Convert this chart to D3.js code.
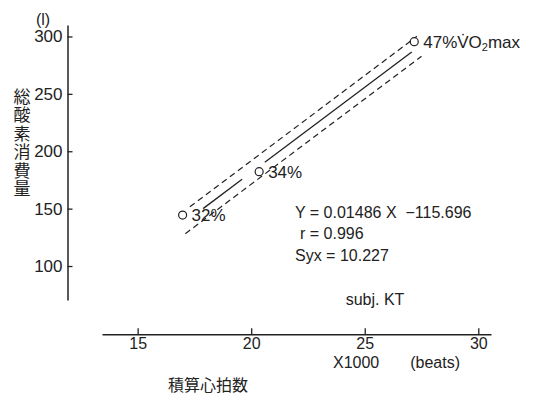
<!DOCTYPE html>
<html>
<head>
<meta charset="utf-8">
<script src="https://cdn.jsdelivr.net/npm/d3@7"></script>
<style>
  html, body { margin: 0; padding: 0; background: #fff; }
  svg { display: block; }
  text { font-family: "Liberation Sans", Arial, sans-serif; fill: #222; }
</style>
</head>
<body>
<svg id="chart" width="537" height="396"></svg>
<script>
// Cumulative heart beats (x1000) vs. total oxygen consumption (l), subject KT
const pointLabels = ["32%", "34%", "47%"];
const beatsK = [16.98, 20.35, 27.18];          // x 1000 beats
const oxygenL = [144.4, 182.2, 295.5];         // litres
const xTicks = [15, 20, 25, 30];
const yTicks = [100, 150, 200, 250, 300];
const slope = 0.01486;        // per beat
const intercept = -115.696;
const rValue = 0.996;
const syx = 10.227;
const yTitle = "総酸素消費量";

const svg = d3.select("#chart");

const x = d3.scaleLinear().domain([13.43, 30.56]).range([102, 491]);
const y = d3.scaleLinear().domain([70.4, 310]).range([300, 25]);

const fit = k => slope * k * 1000 + intercept;

// axes
const yAxis = d3.axisLeft(y).tickValues(yTicks).tickSizeInner(-5).tickSizeOuter(0).tickPadding(5);
const gy = svg.append("g").attr("transform", "translate(67.5,0)").call(yAxis);
gy.selectAll("text").attr("font-size", 17).attr("fill", "#222").style("font-family", "Liberation Sans, Arial, sans-serif");

const xAxis = d3.axisBottom(x).tickValues(xTicks).tickSizeInner(-6).tickSizeOuter(0).tickPadding(3);
const gx = svg.append("g").attr("transform", "translate(0,334.3)").call(xAxis);
gx.selectAll("text").attr("font-size", 16).attr("fill", "#222").style("font-family", "Liberation Sans, Arial, sans-serif");

[gx, gy].forEach(g => {
  g.select(".domain").attr("stroke", "#222").attr("stroke-width", 1.5);
  g.selectAll(".tick line").attr("stroke", "#222").attr("stroke-width", 1.3);
});

// axis titles
svg.append("text").attr("x", 43).attr("y", 25).attr("text-anchor", "middle")
  .attr("font-size", 16).text("(l)");

svg.append("text")
  .attr("x", 22).attr("y", 88)
  .style("writing-mode", "vertical-rl")
  .style("font-family", "Noto Sans CJK JP")
  .style("letter-spacing", "1.4px")
  .attr("font-size", 17)
  .text(yTitle);

svg.append("text").attr("x", 333).attr("y", 367.5).attr("font-size", 16).text("X1000");
svg.append("text").attr("x", 460).attr("y", 367.5).attr("text-anchor", "end").attr("font-size", 16).text("(beats)");
svg.append("text").attr("x", 168).attr("y", 391).attr("font-size", 16)
  .style("font-family", "Noto Sans CJK JP").text("積算心拍数");

// regression line (broken around the middle point) and ±Syx band
const line = d3.line().x(d => x(d[0])).y(d => y(d[1]));
const solidSegments = [[17.88, 19.6], [20.6, 27.07]];
svg.append("g").selectAll("path").data(solidSegments).join("path")
  .attr("d", s => line(s.map(k => [k, fit(k)])))
  .attr("fill", "none").attr("stroke", "#222").attr("stroke-width", 1.3);

const bands = [{ off: syx, from: 17.3, to: 27.3 }, { off: -syx, from: 17.1, to: 27.5 }];
svg.append("g").selectAll("path").data(bands).join("path")
  .attr("d", b => line([b.from, b.to].map(k => [k, fit(k) + b.off])))
  .attr("fill", "none").attr("stroke", "#222").attr("stroke-width", 1.2)
  .attr("stroke-dasharray", "6,4");

// measured points
svg.append("g").selectAll("circle").data(beatsK).join("circle")
  .attr("cx", d => x(d)).attr("cy", (d, i) => y(oxygenL[i])).attr("r", 4)
  .attr("fill", "#fff").attr("stroke", "#222").attr("stroke-width", 1.2);

const lbl = svg.append("g").selectAll("text").data(pointLabels).join("text")
  .attr("x", (d, i) => x(beatsK[i]) + 9).attr("y", (d, i) => y(oxygenL[i]) + 6)
  .attr("font-size", 17).text(d => d);
lbl.filter((d, i) => i === 2).call(t => {
  t.append("tspan").text("V\u0307O");
  t.append("tspan").attr("font-size", 11).attr("dy", 3).text("2");
  t.append("tspan").attr("dy", -3).text("max");
});

// regression summary
svg.append("text").attr("x", 295).attr("y", 218).attr("font-size", 16)
  .text(`Y = ${slope} X  \u2212${Math.abs(intercept)}`).attr("xml:space", "preserve");
svg.append("text").attr("x", 300).attr("y", 239).attr("font-size", 16).text(`r = ${rValue}`);
svg.append("text").attr("x", 295).attr("y", 261).attr("font-size", 16).text(`Syx = ${syx}`);
svg.append("text").attr("x", 375).attr("y", 305).attr("text-anchor", "middle").attr("font-size", 16).text("subj. KT");
</script>
</body>
</html>
